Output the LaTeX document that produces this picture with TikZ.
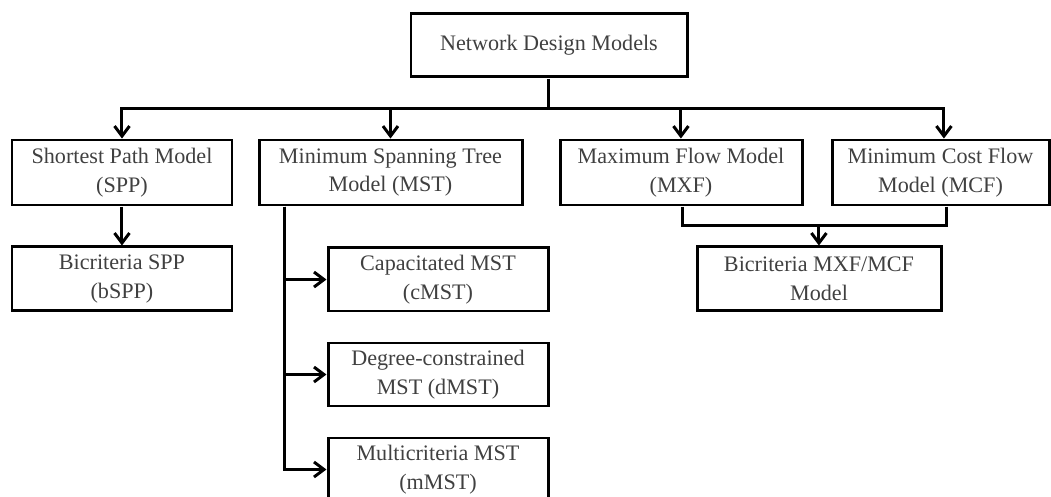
\documentclass[tikz,border=0pt]{standalone}
\usepackage{fontspec}
\setmainfont{Liberation Serif}
\usetikzlibrary{arrows.meta}
\usetikzlibrary{shapes}

\begin{document}
\begin{tikzpicture}[scale = 10]
\tikzstyle{BoxStyle}=[shape = rectangle,
                      draw,
                      line width = 0.85pt,
                      minimum width = 2.2cm,
                      minimum height = 0.63cm,
                      inner sep = 1pt,
                      align = center,
                      text = black!75,
                      font = \fontsize{6.3}{8.2}\selectfont]
\tikzstyle{EdgeStyle}=[line width = 0.85pt,
                       >={Straight Barb[length=1mm,width=1.5mm,line width=0.85pt]}]
\useasboundingbox (0,0) rectangle (1.051,0.497);
\node[BoxStyle, minimum width = 2.76cm] (ndm) at (0.549, 0.4515) {Network Design Models};
\node[BoxStyle, minimum height = 0.65cm] (spp) at (0.122, 0.3245) {Shortest Path Model\\(SPP)};
\node[BoxStyle, minimum height = 0.65cm, minimum width = 2.63cm] (mst) at (0.3905, 0.3245) {Minimum Spanning Tree\\Model (MST)};
\node[BoxStyle, minimum height = 0.65cm, minimum width = 2.42cm] (mxf) at (0.681, 0.3245) {Maximum Flow Model\\(MXF)};
\node[BoxStyle, minimum height = 0.65cm, minimum width = 2.17cm] (mcf) at (0.9405, 0.3245) {Minimum Cost Flow\\Model (MCF)};
\node[BoxStyle, minimum height = 0.64cm] (bspp) at (0.122, 0.218) {Bicriteria SPP\\(bSPP)};
\node[BoxStyle] (cmst) at (0.438, 0.2175) {Capacitated MST\\(cMST)};
\node[BoxStyle] (dmst) at (0.438, 0.1225) {Degree-constrained\\MST (dMST)};
\node[BoxStyle] (mmst) at (0.438, 0.0275) {Multicriteria MST\\(mMST)};
\node[BoxStyle, minimum height = 0.64cm, minimum width = 2.44cm] (bmxf) at (0.819, 0.218) {Bicriteria MXF/MCF\\Model};
\coordinate (bus) at (0.549, 0.389);
\coordinate (merge) at (0.819, 0.272);
\draw[EdgeStyle] (ndm.south) -- (bus);
\draw[EdgeStyle, ->] (bus) -| (spp.north);
\draw[EdgeStyle, ->] (bus) -| (mst.north);
\draw[EdgeStyle, ->] (bus) -| (mxf.north);
\draw[EdgeStyle, ->] (bus) -| ([xshift = 0.0035cm]mcf.north);
\draw[EdgeStyle, ->] (spp.south) -- (bspp.north);
\draw[EdgeStyle, ->] ([xshift = -0.1055cm]mst.south) |- (cmst.west);
\draw[EdgeStyle, ->] ([xshift = -0.1055cm]mst.south) |- (dmst.west);
\draw[EdgeStyle, ->] ([xshift = -0.1055cm]mst.south) |- (mmst.west);
\draw[EdgeStyle] ([xshift = 0.002cm]mxf.south) |- (merge);
\draw[EdgeStyle] ([xshift = 0.0065cm]mcf.south) |- (merge);
\draw[EdgeStyle, ->] (merge) -- (bmxf.north);
\end{tikzpicture}
\end{document}
